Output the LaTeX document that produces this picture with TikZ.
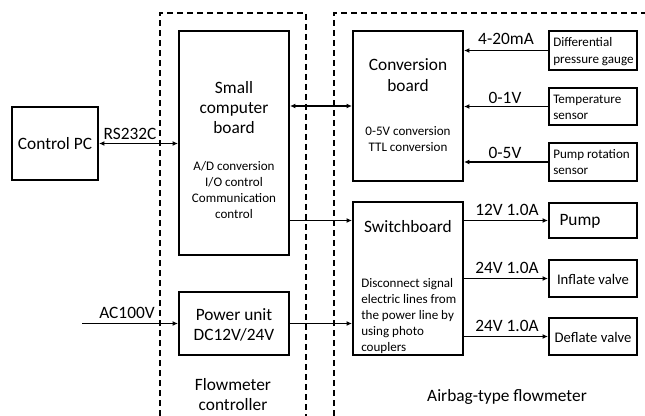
\documentclass[tikz,border=0pt]{standalone}
\usepackage{fontspec}
\setmainfont{Carlito}
\usetikzlibrary{arrows.meta}
\def\u{0.75pt}
\tikzset{
  box/.style={draw, line width=1.5pt, inner sep=0pt},
  frame/.style={line width=1.6pt, dash pattern=on 4.5pt off 3pt},
  conn/.style={line width=1.1pt, -{Latex[length=4pt,width=3.6pt]}},
  biconn/.style={line width=1.1pt, {Latex[length=4pt,width=3.6pt]}-{Latex[length=4pt,width=3.6pt]}},
  big/.style={font=\fontsize{13}{15}\selectfont, inner sep=0pt},
  small/.style={font=\fontsize{9.8}{12}\selectfont, inner sep=0pt},
}
\begin{document}
\begin{tikzpicture}[x=0.75pt, y=-0.75pt]
\useasboundingbox (0,0) rectangle (645,416);
% dashed frames
\draw[frame] (160,416) -- (160,13) -- (306,13) -- (306,416);
\draw[frame] (334,416) -- (334,13) -- (645,13);
% boxes
\node[box, minimum width=86*\u, minimum height=73*\u, big] (pc) at (55,143.5) {Control PC};
\node[box, minimum width=110*\u, minimum height=224*\u] (scb) at (234,143) {};
\node[box, minimum width=110*\u, minimum height=150*\u] (conv) at (408,106) {};
\node[box, minimum width=110*\u, minimum height=153*\u] (sw) at (408,278.5) {};
\node[box, minimum width=110*\u, minimum height=63*\u] (pu) at (234,323.5) {};
\node[box, minimum width=88*\u, minimum height=39*\u] (dp) at (593,50.5) {};
\node[box, minimum width=88*\u, minimum height=37*\u] (ts) at (593,106.5) {};
\node[box, minimum width=88*\u, minimum height=38*\u] (pr) at (593,162) {};
\node[box, minimum width=88*\u, minimum height=35*\u] (pump) at (593,220.5) {};
\node[box, minimum width=88*\u, minimum height=37*\u] (iv) at (593,278.5) {};
\node[box, minimum width=88*\u, minimum height=37*\u] (dv) at (593,336.5) {};
% texts inside boxes
\node[big, align=center] (scbt) at (234,108) {Small\\computer\\board};
\node[small, align=center] (scbs) at (234,190) {A/D conversion\\I/O control\\Communication\\control};
\node[big, align=center, font=\fontsize{13}{15.75}\selectfont] (convt) at (408,75.5) {Conversion\\board};
\node[small, align=center] (convs) at (408,139) {0-5V conversion\\TTL conversion};
\node[big] (swt) at (408,227) {Switchboard};
\node[small, align=left, anchor=west] (sws) at (361,316.5) {Disconnect signal\\electric lines from\\the power line by\\using photo\\couplers};
\node[big, align=center] (put) at (234,324.5) {Power unit\\DC12V/24V};
\node[small, align=left, anchor=west, font=\fontsize{9.8}{12.75}\selectfont] (dpt) at (553,51.5) {Differential\\pressure gauge};
\node[small, align=left, anchor=west] (tst) at (553,107) {Temperature\\sensor};
\node[small, align=left, anchor=west] (prt) at (553,162) {Pump rotation\\sensor};
\node[big] (pumpt) at (580,221) {Pump};
\node[small, font=\fontsize{11}{13}\selectfont] (ivt) at (593,279) {Inflate valve};
\node[small, font=\fontsize{11}{13}\selectfont] (dvt) at (593,337) {Deflate valve};
% connectors
\coordinate (ac) at (82,323.5);
\draw[biconn] (pc.east) -- (pc.east -| scb.west);
\draw[biconn] (scb.east |- conv.west) -- (conv.west);
\draw[conn] (scb.east |- pump.west) -- (sw.west |- pump.west);
\draw[conn] (pu.east) -- (pu.east -| sw.west);
\draw[conn] (ac) -- (pu.west);
\draw[conn] (dp.west) -- (dp.west -| conv.east);
\draw[conn] (ts.west) -- (ts.west -| conv.east);
\draw[conn] (pr.west) -- (pr.west -| conv.east);
\draw[conn] (sw.east |- pump.west) -- (pump.west);
\draw[conn] (sw.east |- iv.west) -- (iv.west);
\draw[conn] (sw.east |- dv.west) -- (dv.west);
% connector labels
\node[big] (lrs) at (130,134) {RS232C};
\node[big] (lac) at (127,313) {AC100V};
\node[big] (l1) at (506,39) {4-20mA};
\node[big] (l2) at (505,98) {0-1V};
\node[big] (l3) at (505,153) {0-5V};
\node[big] (l4) at (507,210) {12V 1.0A};
\node[big] (l5) at (507,268) {24V 1.0A};
\node[big] (l6) at (507,326) {24V 1.0A};
% group captions
\node[big, align=center] (fc) at (233,395) {Flowmeter\\controller};
\node[big] (af) at (507,397) {Airbag-type flowmeter};
\end{tikzpicture}
\end{document}
